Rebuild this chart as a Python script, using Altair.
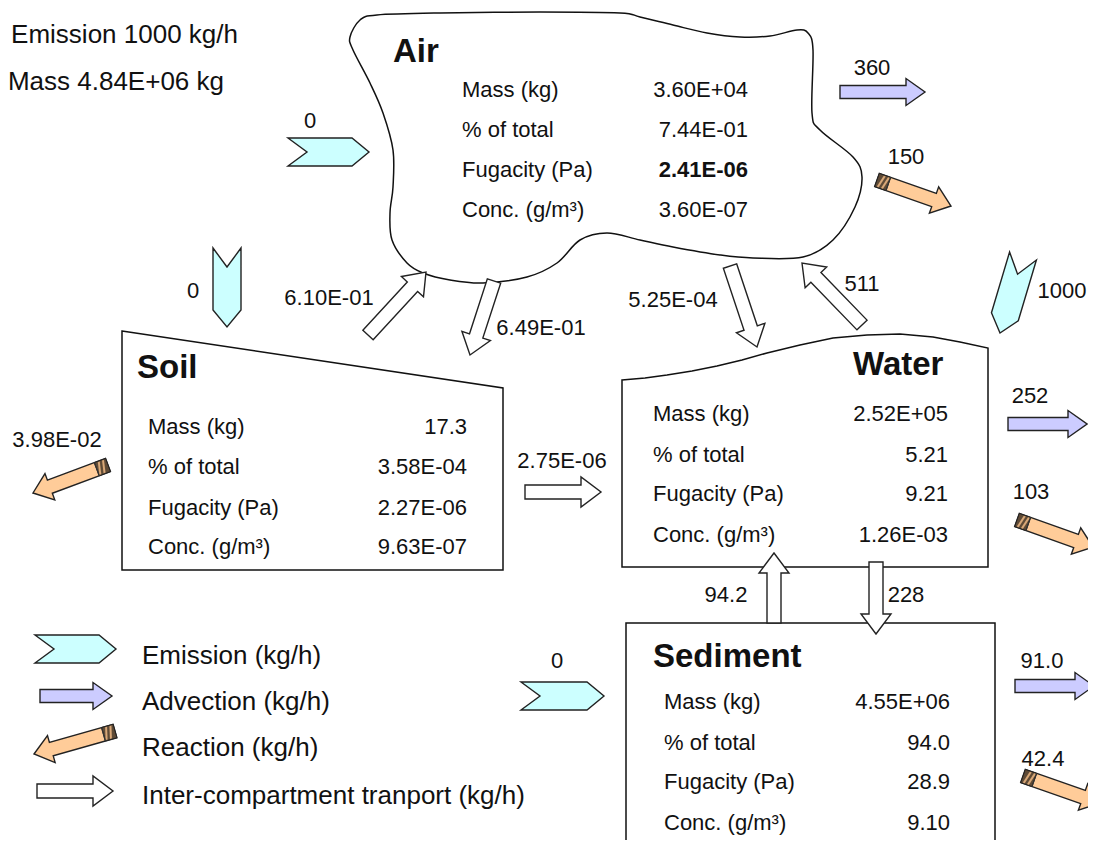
import math
import altair as alt
import pandas as pd

# ---------------- data ----------------
compartments = ["Air", "Soil", "Water", "Sediment"]
row_labels = ["Mass (kg)", "% of total", "Fugacity (Pa)", "Conc. (g/m³)"]
air_values = ["3.60E+04", "7.44E-01", "2.41E-06", "3.60E-07"]
soil_values = ["17.3", "3.58E-04", "2.27E-06", "9.63E-07"]
water_values = ["2.52E+05", "5.21", "9.21", "1.26E-03"]
sediment_values = ["4.55E+06", "94.0", "28.9", "9.10"]
summary_lines = ["Total Emission 1000 kg/h", "Total Mass 4.84E+06 kg"]
emission_labels = ["0", "0", "1000", "0"]            # air, soil, water, sediment
advection_labels = ["360", "252", "91.0"]            # air, water, sediment
reaction_labels = ["150", "3.98E-02", "103", "42.4"]  # air, soil, water, sediment
transport_labels = ["6.10E-01", "6.49E-01", "5.25E-04", "511", "2.75E-06", "94.2", "228"]
legend_labels = ["Emission (kg/h)", "Advection (kg/h)", "Reaction (kg/h)",
                 "Inter-compartment tranport (kg/h)"]

# ---------------- layout (diagram geometry, pixels) ----------------
FONT = "Liberation Sans"
INK = "#111111"
XS = alt.Scale(domain=[8, 1088], nice=False, zero=False)
YS = alt.Scale(domain=[8, 840], nice=False, zero=False, reverse=True)

cloud_outline = [(350, 37), (360, 20), (377, 15), (440, 13), (540, 12), (620, 13), (640, 17),
                 (673, 25), (707, 33), (740, 37), (770, 36), (797, 30), (808, 33), (813, 50),
                 (812, 113), (820, 130), (853, 157), (862, 177), (855, 207), (833, 240),
                 (803, 257), (753, 258), (720, 255), (673, 247), (640, 240), (607, 233),
                 (580, 240), (557, 263), (527, 277), (483, 283), (450, 280), (423, 273),
                 (407, 263), (392, 240), (390, 213), (393, 187), (393, 150), (383, 113),
                 (370, 83), (353, 50)]
soil_outline = [(122, 331), (503, 388), (503, 570), (122, 570)]
water_outline = [(622, 380), (645, 378), (667, 375), (692, 371), (717, 366), (742, 360),
                 (767, 353), (800, 345), (833, 338), (867, 335), (900, 334), (933, 337),
                 (960, 342), (988, 348), (988, 567), (622, 567)]
sediment_outline = [(626, 623), (995, 623), (995, 880), (626, 880)]

tables = {
    "Air": dict(title=(393, 52), lx=462, vx=748, rows=[90, 130, 170, 210], vals=air_values),
    "Soil": dict(title=(137, 368), lx=148, vx=467, rows=[427, 467, 508, 547], vals=soil_values),
    "Water": dict(title=(853, 365), lx=653, vx=948, rows=[414, 455, 494, 535], vals=water_values),
    "Sediment": dict(title=(653, 657), lx=664, vx=950, rows=[702, 743, 782, 823], vals=sediment_values),
}
bold_value = ("Air", 2)  # fugacity of air is printed in bold

# arrows: (tail, tip, label position)
emission_geo = [((288, 152), (369, 152), (310, 121)),
                ((227, 248), (227, 327), (193, 291)),
                ((1023, 256), (1000, 333), (1062, 291)),
                ((521, 696), (604, 696), (557, 661))]
advection_geo = [((840, 92), (925, 92), (872, 68)),
                 ((1008, 424), (1087, 424), (1030, 396)),
                 ((1015, 686), (1094, 686), (1042, 661))]
reaction_geo = [((877, 180), (951, 206), (906, 157)),
                ((108, 465), (33, 493), (57, 440)),
                ((1017, 520), (1093, 547), (1031, 492)),
                ((1023, 776), (1100, 803), (1043, 759))]
transport_geo = [((368, 335), (426, 272), (329, 298)),
                 ((494, 281), (470, 355), (541, 328)),
                 ((730, 266), (757, 347), (673, 300)),
                 ((862, 325), (802, 263), (862, 284)),
                 ((525, 492), (601, 492), (562, 461)),
                 ((774, 623), (774, 553), (726, 595)),
                 ((876, 562), (876, 634), (906, 595))]
legend_geo = [((35, 649), (116, 649)), ((40, 696), (112, 696)),
              ((115, 731), (34, 754)), ((37, 791), (113, 791))]
legend_text_x, legend_text_y = 142, [656, 702, 748, 796]

DIMS = {"advection": (13, 27, 19), "reaction": (14, 28, 18), "transport": (14, 30, 20)}


def place(tail, tip, local):
    x0, y0 = tail
    x1, y1 = tip
    L = math.hypot(x1 - x0, y1 - y0)
    ux, uy = (x1 - x0) / L, (y1 - y0) / L
    px, py = -uy, ux
    return [(x0 + u * ux + v * px, y0 + u * uy + v * py) for u, v in local]


def arrow_local(kind, L):
    if kind == "emission":
        W, h, n = 28, 17, 19
        return [(0, -W / 2), (L - h, -W / 2), (L, 0), (L - h, W / 2), (0, W / 2), (n, 0)]
    s, H, h = DIMS[kind]
    return [(0, -s / 2), (L - h, -s / 2), (L - h, -H / 2), (L, 0), (L - h, H / 2),
            (L - h, s / 2), (0, s / 2)]


def add_poly(rows, pid, pts):
    for k, (x, y) in enumerate(pts):
        rows.append({"pid": pid, "k": k, "x": x, "y": y})


def length(tail, tip):
    return math.hypot(tip[0] - tail[0], tip[1] - tail[1])


groups = {g: [] for g in ["emission", "advection", "reaction", "transport"]}
tail_dark, tail_light, hatch = [], [], []

all_arrows = ([("emission", t, p) for t, p, _ in emission_geo] +
              [("advection", t, p) for t, p, _ in advection_geo] +
              [("reaction", t, p) for t, p, _ in reaction_geo] +
              [("transport", t, p) for t, p, _ in transport_geo] +
              [(kind, t, p) for kind, (t, p) in zip(["emission", "advection", "reaction", "transport"], legend_geo)])

for i, (kind, t, p) in enumerate(all_arrows):
    L = length(t, p)
    add_poly(groups[kind], f"{kind}{i}", place(t, p, arrow_local(kind, L)))
    if kind == "reaction":
        s = DIMS["reaction"][0] / 2
        add_poly(tail_dark, f"d{i}", place(t, p, [(0, -s), (12, -s), (12, s), (0, s)]))
        for j, (a, b) in enumerate([(3.5, 5.5), (8, 10)]):
            add_poly(tail_light, f"l{i}_{j}", place(t, p, [(a + 1.5, -s + 0.8), (b + 1.5, -s + 0.8),
                                                          (b - 1.5, s - 0.8), (a - 1.5, s - 0.8)]))
        add_poly(hatch, f"h{i}", place(t, p, [(12, -s), (12, s)]))

shape_rows = []
add_poly(shape_rows, "soil", soil_outline)
add_poly(shape_rows, "water", water_outline)
add_poly(shape_rows, "sediment", sediment_outline)
cloud_rows = []
add_poly(cloud_rows, "air", cloud_outline)


def poly_layer(rows, fill, stroke="#222222", sw=1.4, interp="linear-closed"):
    return alt.Chart(pd.DataFrame(rows)).mark_line(
        fill=fill, stroke=stroke, strokeWidth=sw, interpolate=interp, strokeJoin="miter"
    ).encode(
        x=alt.X("x:Q", scale=XS, axis=None),
        y=alt.Y("y:Q", scale=YS, axis=None),
        detail="pid:N",
        order="k:Q",
    )


def text_layer(rows, size, align="left", weight="normal"):
    return alt.Chart(pd.DataFrame(rows)).mark_text(
        font=FONT, fontSize=size, align=align, baseline="middle", fontWeight=weight, color=INK
    ).encode(
        x=alt.X("x:Q", scale=XS, axis=None),
        y=alt.Y("y:Q", scale=YS, axis=None),
        text="t:N",
    )


# ---------------- text tables ----------------
title_rows, label_rows, value_rows, bold_rows = [], [], [], []
for name in compartments:
    cfg = tables[name]
    title_rows.append({"x": cfg["title"][0], "y": cfg["title"][1], "t": name})
    for r, (lab, val, yy) in enumerate(zip(row_labels, cfg["vals"], cfg["rows"])):
        label_rows.append({"x": cfg["lx"], "y": yy, "t": lab})
        target = bold_rows if (name, r) == bold_value else value_rows
        target.append({"x": cfg["vx"], "y": yy, "t": val})

flow_rows = []
for labels, geo in [(emission_labels, emission_geo), (advection_labels, advection_geo),
                    (reaction_labels, reaction_geo), (transport_labels, transport_geo)]:
    for lab, (_, _, pos) in zip(labels, geo):
        flow_rows.append({"x": pos[0], "y": pos[1], "t": lab})

legend_rows = [{"x": legend_text_x, "y": yy, "t": lab} for lab, yy in zip(legend_labels, legend_text_y)]
summary_rows = [{"x": 238, "y": 35, "t": summary_lines[0]},
                {"x": 224, "y": 82, "t": summary_lines[1]}]

layers = [
    poly_layer(cloud_rows, "white", stroke="#111111", sw=1.5, interp="cardinal-closed"),
    poly_layer(shape_rows, "white", stroke="#111111", sw=1.5),
    poly_layer(groups["emission"], "#ccffff"),
    poly_layer(groups["advection"], "#ccccff"),
    poly_layer(groups["reaction"], "#ffcc99"),
    poly_layer(tail_dark, "#5e4a36", sw=1.0),
    poly_layer(tail_light, "#d9a878", stroke="#d9a878", sw=0.1),
    poly_layer(groups["transport"], "white"),
    alt.Chart(pd.DataFrame(hatch)).mark_line(stroke="#333333", strokeWidth=1.2).encode(
        x=alt.X("x:Q", scale=XS, axis=None), y=alt.Y("y:Q", scale=YS, axis=None),
        detail="pid:N", order="k:Q"),
    text_layer(title_rows, 33, weight="bold"),
    text_layer(label_rows, 22),
    text_layer(value_rows, 22, align="right"),
    text_layer(bold_rows, 22, align="right", weight="bold"),
    text_layer(flow_rows, 22, align="center"),
    text_layer(legend_rows, 26),
    text_layer(summary_rows, 26, align="right"),
]

chart = alt.layer(*layers).properties(
    width=1080, height=832,
    autosize=alt.AutoSizeParams(type="none"),
    padding=0,
    background="white",
).configure_view(strokeWidth=0)

chart.save("out.html", embed_options={"renderer": "svg", "actions": False})
